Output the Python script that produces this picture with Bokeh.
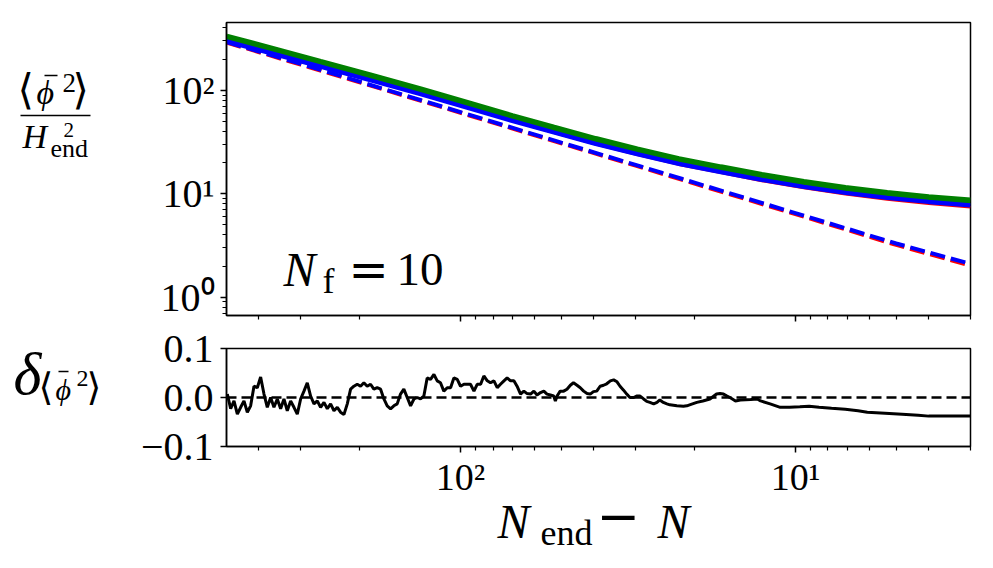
from bokeh.plotting import figure
from bokeh.layouts import column, row
from bokeh.models import Range1d, Label, FixedTicker, BoxAnnotation
from bokeh.embed import file_html
from bokeh.resources import INLINE

# ---- top panel: <phi^2>/H_end^2 against N_end - N ----
n_curve = [500, 369, 262, 186, 131.5, 93.3, 70.1, 52.6, 39.5, 29.7, 22.3, 16.7, 12.6, 9.44, 7.09, 5.32, 4.0, 3.0]
phi2_green = [329, 253, 187, 138.5, 101.3, 73.4, 56.0, 43.3, 33.6, 26.7, 21.5, 17.9, 15.07, 12.92, 11.3, 10.1, 9.21, 8.55]
phi2_blue = [297, 228.5, 169, 125, 91.5, 66.3, 50.6, 39.1, 30.3, 24.1, 19.4, 16.2, 13.6, 11.67, 10.2, 9.12, 8.32, 7.72]
phi2_red = [298, 229.5, 169.5, 125.3, 91.6, 66.3, 50.5, 38.9, 30.0, 23.8, 19.1, 15.9, 13.3, 11.35, 9.88, 8.8, 8.0, 7.4]

n_analytic = [500, 300, 200, 100, 50, 30, 20, 10, 5, 3]
phi2_analytic_blue = [293, 180, 121, 61.5, 31.2, 19.0, 12.8, 6.5, 3.3, 2.1]
phi2_analytic_red = [290, 177, 119.5, 60.6, 30.7, 18.7, 12.5, 6.35, 3.2, 2.02]

# ---- bottom panel: relative difference delta ----
n_delta = [
    497.1, 485.9, 474.9, 464.1, 453.6, 443.4, 433.3, 423.5, 413.9, 404.5,
    395.4, 386.4, 377.7, 369.1, 360.8, 352.6, 344.6, 336.8, 329.2, 321.7,
    314.4, 307.3, 300.3, 293.5, 286.9, 280.4, 274.0, 267.8, 261.8, 255.8,
    250.0, 244.4, 238.8, 233.4, 228.2, 223.0, 217.9, 213.0, 208.2, 203.5,
    198.9, 194.4, 190.0, 185.7, 181.5, 177.4, 173.3, 169.4, 165.6, 161.8,
    158.2, 154.6, 151.1, 147.7, 144.3, 141.0, 137.8, 134.7, 131.7, 128.7,
    125.8, 122.9, 120.1, 117.4, 114.8, 112.2, 109.6, 107.1, 104.7, 102.3,
    100.0, 97.7, 95.5,
    93.4, 91.2, 89.2, 87.1, 85.2, 83.2, 81.4, 79.5, 77.7, 76.0,
    74.2, 72.6, 70.9, 69.3, 67.8, 66.2, 64.7, 63.3, 61.8, 60.4,
    59.1, 57.7, 56.4, 55.2, 53.9, 52.7, 52.1, 51.5, 50.4, 49.2,
    48.1, 47.0, 46.0, 44.9, 43.9, 42.9, 41.9, 41.0, 40.1, 39.2,
    38.3, 37.4, 36.6, 35.7, 34.9, 34.1, 33.4, 32.6, 31.9, 31.2,
    30.4, 29.8, 29.1, 28.4, 27.8, 27.2, 26.5, 25.9, 25.4, 24.8,
    24.2, 23.7, 22.6, 21.6, 21.1, 20.7, 19.7, 18.9, 18.0, 17.2, 16.8,
    16.4, 16.0, 15.6, 15.1, 14.6, 13.6, 13.0, 12.7, 11.9, 11.1,
    10.4, 9.7, 9.1, 8.5, 7.8, 7.1, 6.5, 6.1, 5.4, 4.8,
    4.3, 4.0, 3.4, 3.0,
]
delta = [
    0.007, -0.023, -0.007, -0.034, -0.020, -0.007, -0.030, -0.017, 0.023, 0.020,
    0.042, 0.007, -0.020, 0.000, -0.020, -0.003, -0.023, -0.003, -0.027, -0.007,
    -0.020, -0.034, -0.003, 0.013, 0.030, 0.003, -0.013, -0.007, -0.020, -0.010,
    -0.023, -0.013, -0.027, -0.020, -0.030, -0.035, -0.013, 0.017, 0.023, 0.027,
    0.023, 0.030, 0.023, 0.027, 0.017, 0.020, 0.017, -0.003, -0.017, -0.023,
    -0.017, -0.013, 0.007, 0.017, 0.000, -0.017, -0.003, 0.000, -0.003, 0.003,
    0.040, 0.037, 0.047, 0.034, 0.030, 0.013, 0.020, 0.020, 0.040, 0.037,
    0.023, 0.027, 0.027,
    0.027, 0.013, 0.027, 0.027, 0.044, 0.034, 0.030, 0.034, 0.020, 0.027,
    0.034, 0.040, 0.034, 0.034, 0.023, 0.007, 0.013, 0.008, 0.007, 0.013,
    0.005, 0.010, 0.013, 0.007, 0.005, 0.003, -0.007, 0.003, 0.013, 0.013,
    0.017, 0.025, 0.030, 0.025, 0.020, 0.013, 0.008, 0.007, 0.012, 0.013,
    0.023, 0.025, 0.028, 0.034, 0.036, 0.032, 0.023, 0.015, 0.007, 0.000,
    0.000, 0.003, 0.003, -0.003, -0.008, -0.010, -0.013, -0.010, -0.005, -0.010,
    -0.013, -0.015, -0.017, -0.018, -0.017, -0.015, -0.010, -0.007, -0.003, 0.007, 0.008,
    0.007, 0.003, -0.001, -0.007, -0.005, -0.004, -0.003, -0.007, -0.013, -0.020,
    -0.020, -0.019, -0.018, -0.020, -0.022, -0.024, -0.027, -0.030, -0.032, -0.034,
    -0.036, -0.038, -0.038, -0.038,
]
n_zero = [500, 3]
delta_zero = [0, 0]

# tick positions and labels
x_major = [10, 100]
x_minor = [3, 4, 5, 6, 7, 8, 9, 20, 30, 40, 50, 60, 70, 80, 90, 200, 300, 400]
y_major = [1, 10, 100]
y_minor = [0.7, 0.8, 0.9, 2, 3, 4, 5, 6, 7, 8, 9, 20, 30, 40, 50, 60, 70, 80, 90, 200, 300, 400]
x_tick_text = {10: "10¹", 100: "10²"}
y_tick_text = {1: "10⁰", 10: "10¹", 100: "10²"}
d_ticks = [-0.1, 0, 0.1]
d_tick_text = {-0.1: "−0.1", 0: "0.0", 0.1: "0.1"}

SERIF = "Liberation Serif"
W, H = 993, 568
SIDE = 110            # width of the column holding the y labels
LEFT, RIGHT = 226, 970
TOP_FRAME = (22, 315)
BOT_FRAME = (348, 446)
TOP_END = 324         # page row where the upper figure ends
BOT_END = 503         # page row where the lower figure ends
DROP = 0.34           # Label draws its baseline this many em below the requested y


def style_axes(p):
    p.background_fill_color = "white"
    p.border_fill_color = "white"
    p.outline_line_color = "black"
    p.outline_line_width = 1.5
    p.outline_line_alpha = 1.0
    p.xgrid.grid_line_color = None
    p.ygrid.grid_line_color = None
    for ax in (p.xaxis[0], p.yaxis[0]):
        ax.axis_line_width = 1.5
        ax.major_tick_line_width = 1.5
        ax.minor_tick_line_width = 1.2
        ax.major_tick_in = 0
        ax.major_tick_out = 6
        ax.minor_tick_in = 0
        ax.minor_tick_out = 4
        ax.major_label_text_font = SERIF
        ax.major_label_text_font_size = "40px"
        ax.major_label_text_color = "black"


def text_panel(width, y0, y1, frame_top, frame_bottom):
    # blank figure whose data coordinates are page pixels; its frame spans
    # page rows frame_top..frame_bottom, like the plot next to it
    p = figure(width=width, height=y1 - y0, x_range=Range1d(0, width),
               y_range=Range1d(frame_bottom, frame_top), x_axis_type=None, y_axis_type=None,
               title=None, min_border_left=0, min_border_right=0,
               min_border_top=frame_top - y0, min_border_bottom=y1 - frame_bottom,
               output_backend="svg", toolbar_location=None)
    p.outline_line_color = None
    p.background_fill_color = "white"
    p.border_fill_color = "white"
    p.xgrid.grid_line_color = None
    p.ygrid.grid_line_color = None
    return p


def put(p, text, x, y, size, font=SERIF, style="normal"):
    # x: left end, y: baseline, both in page pixels
    p.add_layout(Label(x=x, y=y - DROP * size, text=text, text_font=font,
                       text_font_size=f"{size}px", text_font_style=style,
                       text_color="black", text_baseline="alphabetic", text_align="left"))


def bar(p, x0, x1, y, thick=1.6):
    # horizontal stroke (fraction rule, accent bar) in page pixels
    p.add_layout(BoxAnnotation(left=x0, right=x1, top=y - thick / 2, bottom=y + thick / 2,
                               fill_color="black", fill_alpha=1, line_color=None))


# ---------------- upper panel ----------------
top = figure(width=W - SIDE, height=TOP_END, x_axis_type="log", y_axis_type="log",
             x_range=Range1d(500, 3), y_range=Range1d(0.665, 452), title=None,
             output_backend="svg", toolbar_location=None,
             min_border_left=LEFT - SIDE, min_border_right=W - RIGHT,
             min_border_top=TOP_FRAME[0], min_border_bottom=TOP_END - TOP_FRAME[1])
style_axes(top)
top.xaxis[0].ticker = FixedTicker(ticks=x_major, minor_ticks=x_minor)
top.xaxis[0].major_label_text_font_size = "1px"
top.xaxis[0].major_label_text_alpha = 0
top.xaxis[0].major_label_standoff = 0
top.yaxis[0].ticker = FixedTicker(ticks=y_major, minor_ticks=y_minor)
top.yaxis[0].major_label_overrides = y_tick_text
top.yaxis[0].major_label_standoff = 6

top.line(n_analytic, phi2_analytic_red, line_color="red", line_width=4, line_dash="15 6")
top.line(n_analytic, phi2_analytic_blue, line_color="blue", line_width=4, line_dash="15 6")
top.line(n_curve, phi2_green, line_color="green", line_width=6.5)
top.line(n_curve, phi2_red, line_color="red", line_width=2.5)
top.line(n_curve, phi2_blue, line_color="blue", line_width=4.3)


def put_frame(p, text, x, y, size, frame_bottom, font=SERIF, style="normal"):
    # x: left end, y: baseline in page pixels, drawn relative to the frame
    p.add_layout(Label(x=x - LEFT, y=frame_bottom - (y - DROP * size),
                       x_units="screen", y_units="screen",
                       text=text, text_font=font, text_font_size=f"{size}px",
                       text_font_style=style, text_color="black",
                       text_baseline="alphabetic", text_align="left"))


# panel annotation N_f = 10
put_frame(top, "N", 283, 285, 48, TOP_FRAME[1], style="italic")
put_frame(top, "f", 322, 293, 36, TOP_FRAME[1])
put_frame(top, "=", 348, 285, 48, TOP_FRAME[1], font="DejaVu Sans")
put_frame(top, "10", 396, 285, 47, TOP_FRAME[1])

# y label of the upper panel: <phi^2> / H_end^2
lab_top = text_panel(SIDE, 0, TOP_END, *TOP_FRAME)
put(lab_top, "⟨", 17, 103, 42, font="DejaVu Serif")
put(lab_top, "ϕ", 36, 104, 34, style="italic")
bar(lab_top, 44, 57, 75)
put(lab_top, "2", 62, 92, 27)
put(lab_top, "⟩", 72, 103, 42, font="DejaVu Serif")
bar(lab_top, 20, 90, 115)
put(lab_top, "H", 22, 148, 34, style="italic")
put(lab_top, "2", 63, 137, 21)
put(lab_top, "end", 50, 157, 26)

# ---------------- lower panel ----------------
bot = figure(width=W - SIDE, height=BOT_END - TOP_END, x_axis_type="log",
             x_range=Range1d(500, 3), y_range=Range1d(-0.1, 0.1), title=None,
             output_backend="svg", toolbar_location=None,
             min_border_left=LEFT - SIDE, min_border_right=W - RIGHT,
             min_border_top=BOT_FRAME[0] - TOP_END, min_border_bottom=BOT_END - BOT_FRAME[1])
style_axes(bot)
bot.xaxis[0].ticker = FixedTicker(ticks=x_major, minor_ticks=x_minor)
bot.xaxis[0].major_label_overrides = x_tick_text
bot.xaxis[0].major_label_text_font_size = "38px"
bot.xaxis[0].major_label_standoff = 3
bot.yaxis[0].ticker = FixedTicker(ticks=d_ticks, minor_ticks=[])
bot.yaxis[0].major_label_overrides = d_tick_text
bot.yaxis[0].major_label_standoff = 7

bot.line(n_delta, delta, line_color="black", line_width=3)
bot.line(n_zero, delta_zero, line_color="black", line_width=2.5, line_dash="10 5")

# y label of the lower panel: delta_<phi^2>
lab_bot = text_panel(SIDE, TOP_END, BOT_END, *BOT_FRAME)
put(lab_bot, "δ", 13, 394, 60, style="italic")
put(lab_bot, "⟨", 38, 399, 38, font="DejaVu Serif")
put(lab_bot, "ϕ", 55, 399, 30, style="italic")
bar(lab_bot, 58, 68, 371)
put(lab_bot, "2", 76, 386, 24)
put(lab_bot, "⟩", 86, 399, 38, font="DejaVu Serif")

# ---------------- x label: N_end - N ----------------
xlab = text_panel(W, BOT_END, H, BOT_END, H)
put(xlab, "N", 497, 537, 48, style="italic")
put(xlab, "end", 540, 545, 36)
put(xlab, "−", 596, 532, 52, font="DejaVu Sans")
put(xlab, "N", 657, 537, 48, style="italic")

layout = column(row(lab_top, top, spacing=0), row(lab_bot, bot, spacing=0), xlab, spacing=0)
open("out.html", "w").write(file_html(layout, INLINE))
